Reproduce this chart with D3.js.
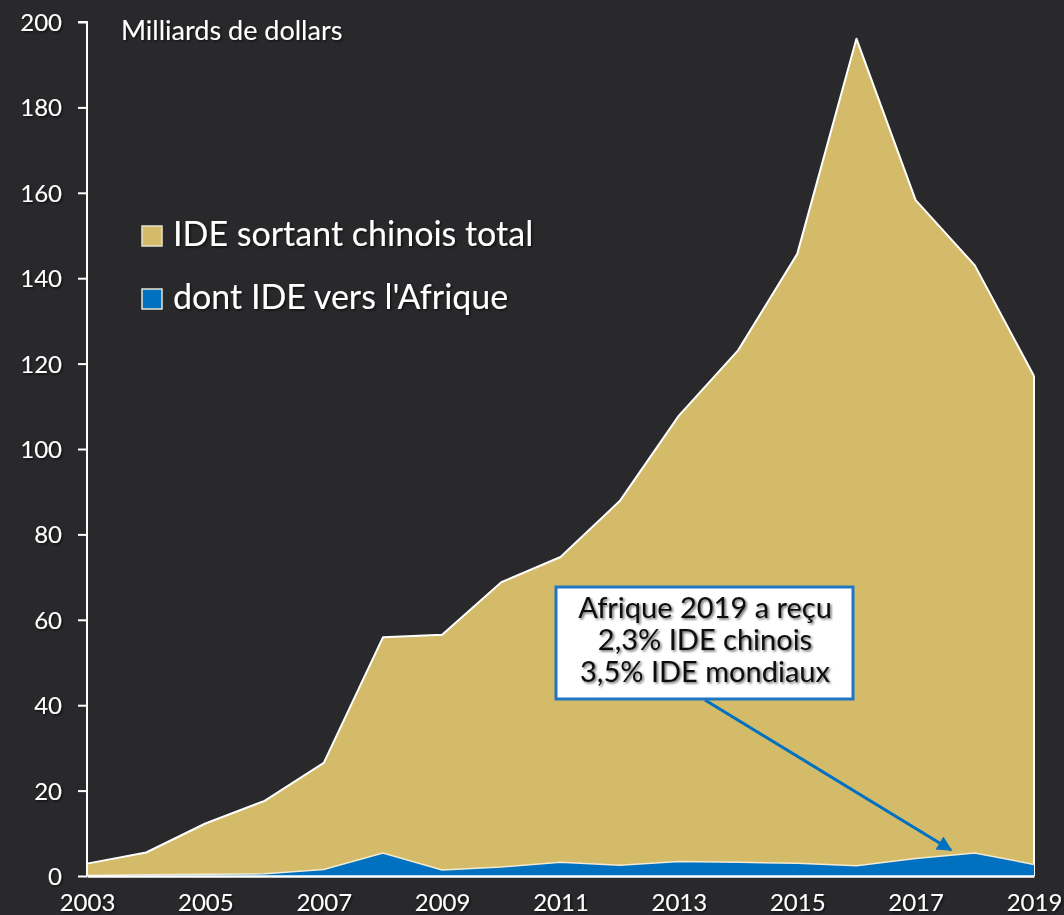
<!DOCTYPE html>
<html>
<head>
<meta charset="utf-8">
<script src="https://cdn.jsdelivr.net/npm/d3@7"></script>
<style>
  body { margin: 0; background: #29292c; }
  svg { display: block; }
  text { font-family: Lato, "Open Sans", sans-serif; fill: #fff; }
  .shadow { filter: url(#txtShadow); }
</style>
</head>
<body>
<div id="chart"></div>
<script>
// data
let years = [2003, 2004, 2005, 2006, 2007, 2008, 2009, 2010, 2011, 2012, 2013, 2014, 2015, 2016, 2017, 2018, 2019];
let totalIDE = [2.9, 5.5, 12.3, 17.6, 26.5, 55.9, 56.5, 68.8, 74.7, 87.8, 107.8, 123.1, 145.7, 196.1, 158.3, 143.0, 117.1];
let afriqueIDE = [0.1, 0.3, 0.4, 0.5, 1.5, 5.4, 1.4, 2.1, 3.2, 2.5, 3.4, 3.2, 3.0, 2.4, 4.1, 5.4, 2.7];
let yTicks = [0, 20, 40, 60, 80, 100, 120, 140, 160, 180, 200];
let xTicks = [2003, 2005, 2007, 2009, 2011, 2013, 2015, 2017, 2019];
let legendLabels = ['IDE sortant chinois total', "dont IDE vers l'Afrique"];
let noteLines = ['Afrique 2019 a reçu', '2,3% IDE chinois', '3,5% IDE mondiaux'];

let W = 1064, H = 915;
let margin = {top: 22, right: 30, bottom: 39, left: 87};

let gold = '#d4bb6a', blue = '#0070c0';

let svg = d3.select('#chart').append('svg')
  .attr('width', W)
  .attr('height', H);

let defs = svg.append('defs');
let f = defs.append('filter').attr('id', 'txtShadow')
  .attr('x', '-10%').attr('y', '-20%').attr('width', '130%').attr('height', '150%');
f.append('feDropShadow').attr('dx', 1.5).attr('dy', 1.5).attr('stdDeviation', 1)
  .attr('flood-color', '#000').attr('flood-opacity', 0.6);

let x = d3.scaleLinear()
  .domain([2003, 2019])
  .range([margin.left, W - margin.right]);

let y = d3.scaleLinear()
  .domain([0, 200])
  .range([H - margin.bottom, margin.top]);

let data = years.map((yr, i) => ({year: yr, total: totalIDE[i], afr: afriqueIDE[i]}));

// areas
let areaTotal = d3.area()
  .x(d => x(d.year))
  .y0(y(0))
  .y1(d => y(d.total));

let lineTotal = d3.line()
  .x(d => x(d.year))
  .y(d => y(d.total));

let areaAfr = d3.area()
  .x(d => x(d.year))
  .y0(y(0))
  .y1(d => y(d.afr));

let lineAfr = d3.line()
  .x(d => x(d.year))
  .y(d => y(d.afr));

svg.append('path')
  .datum(data)
  .attr('d', areaTotal)
  .attr('fill', gold);

svg.append('path')
  .datum(data)
  .attr('d', lineTotal)
  .attr('fill', 'none')
  .attr('stroke', '#fff')
  .attr('stroke-width', 2)
  .attr('stroke-linejoin', 'round');

// right edge of gold area
svg.append('line')
  .attr('x1', x(2019)).attr('x2', x(2019))
  .attr('y1', y(totalIDE[totalIDE.length - 1])).attr('y2', y(0))
  .attr('stroke', '#fff')
  .attr('stroke-width', 2);

svg.append('path')
  .datum(data)
  .attr('d', areaAfr)
  .attr('fill', blue);

svg.append('path')
  .datum(data)
  .attr('d', lineAfr)
  .attr('fill', 'none')
  .attr('stroke', '#f3ead0')
  .attr('stroke-width', 1.5);

// y axis
let yAxis = svg.append('g')
  .attr('transform', `translate(${margin.left},0)`)
  .call(d3.axisLeft(y).tickValues(yTicks).tickSize(9).tickPadding(16));
yAxis.select('.domain').attr('stroke', '#fff').attr('stroke-width', 2)
  .attr('d', `M-9,${y(200)}H0V${y(0)}`);
yAxis.selectAll('.tick line').attr('stroke', '#fff').attr('stroke-width', 2);
yAxis.selectAll('.tick text')
  .attr('class', 'shadow')
  .style('font-size', '24px')
  .style('font-family', 'Lato, sans-serif')
  .attr('fill', '#fff')
  .attr('dy', '0.35em');

// x axis
let xAxis = svg.append('g')
  .attr('transform', `translate(0,${y(0)})`)
  .call(d3.axisBottom(x).tickValues(xTicks).tickFormat(d3.format('d')).tickSize(0).tickPadding(18));
xAxis.select('.domain').attr('stroke', '#fff').attr('stroke-width', 2.5);
xAxis.selectAll('.tick text')
  .attr('class', 'shadow')
  .style('font-size', '24px')
  .style('font-family', 'Lato, sans-serif')
  .attr('fill', '#fff');

// unit label
svg.append('text')
  .attr('class', 'shadow')
  .attr('x', 121)
  .attr('y', 40)
  .style('font-size', '27px')
  .text('Milliards de dollars');

// legend
let legend = svg.selectAll('.legend')
  .data(legendLabels)
  .enter().append('g')
  .attr('class', 'legend')
  .attr('transform', (d, i) => `translate(142,${226 + i * 63})`);

legend.append('rect')
  .attr('width', 20)
  .attr('height', 20)
  .attr('fill', (d, i) => i === 0 ? gold : blue)
  .attr('stroke', '#e8e2d0')
  .attr('stroke-width', 1.5);

legend.append('text')
  .attr('class', 'shadow')
  .attr('x', 31)
  .attr('y', 20)
  .style('font-size', '34px')
  .text(d => d);

// annotation arrow
defs.append('marker')
  .attr('id', 'arrowhead')
  .attr('viewBox', '0 0 10 10')
  .attr('refX', 9).attr('refY', 5)
  .attr('markerWidth', 6).attr('markerHeight', 5)
  .attr('orient', 'auto')
  .append('path')
  .attr('d', 'M0,0L10,5L0,10Z')
  .attr('fill', blue);

svg.append('line')
  .attr('x1', 705).attr('y1', 700)
  .attr('x2', 951).attr('y2', 850)
  .attr('stroke', blue)
  .attr('stroke-width', 3)
  .attr('marker-end', 'url(#arrowhead)');

// annotation box
svg.append('rect')
  .attr('x', 556).attr('y', 587)
  .attr('width', 297).attr('height', 112)
  .attr('fill', '#fff')
  .attr('stroke', '#1f77c4')
  .attr('stroke-width', 3);

svg.append('text')
  .attr('class', 'shadow')
  .attr('text-anchor', 'middle')
  .style('font-size', '29px')
  .selectAll('tspan')
  .data(noteLines)
  .enter().append('tspan')
  .attr('x', 705)
  .attr('y', (d, i) => 618 + i * 32)
  .attr('fill', '#111')
  .text(d => d);
</script>
</body>
</html>
